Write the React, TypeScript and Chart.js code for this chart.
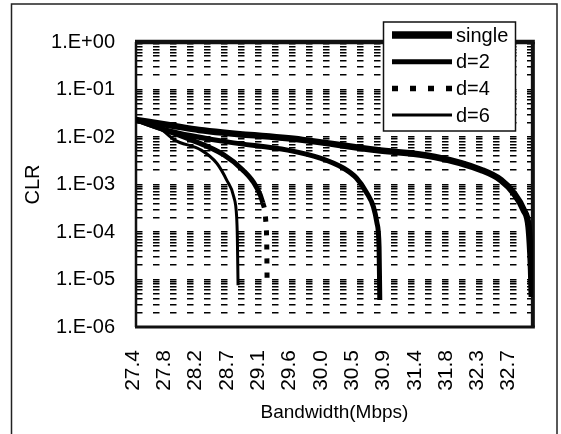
import React, { useEffect, useRef } from 'react';
import { Chart, registerables } from 'chart.js';

Chart.register(...registerables);

// ---- data ----
const X_TICK_LABELS = ['27.4', '27.8', '28.2', '28.7', '29.1', '29.6', '30.0', '30.5', '30.9', '31.4', '31.8', '32.3', '32.7'];
const X_START = 27.4;
const X_STEP = 0.4417;
const X_MAX = 33.0;

const Y_TICK_VALUES = [1e-6, 1e-5, 1e-4, 1e-3, 1e-2, 1e-1, 1];
const Y_TICK_LABELS = ['1.E-06', '1.E-05', '1.E-04', '1.E-03', '1.E-02', '1.E-01', '1.E+00'];

const SERIES_NAMES = ['single', 'd=2', 'd=4', 'd=6'];

const SINGLE_X = [27.4, 27.9, 28.29, 29.75, 30.79, 31.62, 32.28, 32.55, 32.73, 32.87, 32.94, 32.965, 32.975, 32.985];
const SINGLE_Y = [0.0229, 0.0175, 0.0141, 0.0087, 0.0053, 0.0038, 0.002, 0.00124, 6.6e-4, 2.9e-4, 1.28e-4, 3.6e-5, 1.6e-5, 4.3e-6];

const D2_X = [27.4, 27.87, 28.71, 29.54, 30.0, 30.33, 30.51, 30.65, 30.75, 30.8, 30.83, 30.84];
const D2_Y = [0.0229, 0.0134, 0.0078, 0.0053, 0.0036, 0.0022, 0.00137, 6.9e-4, 3.4e-4, 1.55e-4, 4.8e-5, 3.7e-6];

const D4_X = [27.4, 27.8, 28.18, 28.64, 28.91, 29.09, 29.19, 29.23, 29.245, 29.25];
const D4_Y = [0.0229, 0.0141, 0.0087, 0.0042, 0.002, 9.3e-4, 4.1e-4, 1.8e-4, 5.3e-5, 8.1e-6];

const D6_X = [27.4, 27.73, 27.94, 28.32, 28.54, 28.68, 28.78, 28.82, 28.83, 28.84];
const D6_Y = [0.0229, 0.0155, 0.0087, 0.0053, 0.0028, 0.00124, 5.5e-4, 2.1e-4, 7.8e-5, 7.6e-6];

const FONT_FAMILY = "'Liberation Sans', Arial, Helvetica, sans-serif";

const toPoints = (xs: number[], ys: number[]) => xs.map((x, i) => ({ x, y: ys[i] }));

const LEGEND_STYLES = [
  { width: 7.5, dash: [] as number[] },
  { width: 5, dash: [] as number[] },
  { width: 5.5, dash: [6, 12] },
  { width: 3, dash: [] as number[] },
];

const framePlugin = {
  id: 'frame',
  beforeDraw(chart: any) {
    const { ctx, width, height } = chart;
    ctx.save();
    ctx.fillStyle = '#ffffff';
    ctx.fillRect(0, 0, width, height);
    ctx.strokeStyle = '#222';
    ctx.lineWidth = 1.5;
    ctx.strokeRect(11.5, 4, 545.5, height + 10);
    ctx.restore();
  },
  beforeDatasetsDraw(chart: any) {
    const { ctx, chartArea: a } = chart;
    ctx.save();
    ctx.strokeStyle = '#111';
    ctx.setLineDash([]);
    ctx.lineWidth = 2.5;
    ctx.beginPath();
    ctx.moveTo(a.left, a.top);
    ctx.lineTo(a.left, a.bottom);
    ctx.stroke();
    ctx.lineWidth = 3;
    ctx.beginPath();
    ctx.moveTo(a.left - 1, a.bottom);
    ctx.lineTo(a.right + 2, a.bottom);
    ctx.stroke();
    ctx.lineWidth = 4.5;
    ctx.beginPath();
    ctx.moveTo(a.left - 1, a.top);
    ctx.lineTo(a.right + 2, a.top);
    ctx.stroke();
    ctx.lineWidth = 4;
    ctx.beginPath();
    ctx.moveTo(a.right, a.top);
    ctx.lineTo(a.right, a.bottom);
    ctx.stroke();
    ctx.restore();
  },
  afterDraw(chart: any) {
    const { ctx } = chart;
    const bx = 383.5, by = 22, bw = 132, bh = 109;
    ctx.save();
    ctx.fillStyle = '#ffffff';
    ctx.fillRect(bx, by, bw, bh);
    ctx.strokeStyle = '#111';
    ctx.lineWidth = 1.5;
    ctx.setLineDash([]);
    ctx.strokeRect(bx, by, bw, bh);
    ctx.font = `20px ${FONT_FAMILY}`;
    ctx.textAlign = 'left';
    ctx.textBaseline = 'middle';
    SERIES_NAMES.forEach((name, i) => {
      const y = 35 + i * 26.7;
      const st = LEGEND_STYLES[i];
      ctx.strokeStyle = '#000';
      ctx.lineWidth = st.width;
      ctx.setLineDash(st.dash);
      ctx.beginPath();
      ctx.moveTo(392, y);
      ctx.lineTo(452, y);
      ctx.stroke();
      ctx.setLineDash([]);
      ctx.fillStyle = '#000';
      ctx.fillText(name, 456, y + 1);
    });
    ctx.restore();
  },
};

export default function App() {
  const ref = useRef<HTMLCanvasElement | null>(null);

  useEffect(() => {
    document.body.style.margin = '0';
    const canvas = ref.current;
    if (!canvas) return;
    const font = { family: FONT_FAMILY, size: 20 };
    const chart = new Chart(canvas, {
      type: 'line',
      data: {
        datasets: [
          {
            label: SERIES_NAMES[0],
            data: toPoints(SINGLE_X, SINGLE_Y),
            borderColor: '#000',
            borderWidth: 6.5,
            pointRadius: 0,
            cubicInterpolationMode: 'monotone',
          },
          {
            label: SERIES_NAMES[1],
            data: toPoints(D2_X, D2_Y),
            borderColor: '#000',
            borderWidth: 5,
            pointRadius: 0,
            cubicInterpolationMode: 'monotone',
          },
          {
            label: SERIES_NAMES[2],
            data: toPoints(D4_X, D4_Y),
            borderColor: '#000',
            borderWidth: 5,
            pointRadius: 0,
            cubicInterpolationMode: 'monotone',
            segment: {
              borderDash: (c: any) => (c.p1.parsed.y < 3e-4 ? [5, 9] : undefined),
            },
          },
          {
            label: SERIES_NAMES[3],
            data: toPoints(D6_X, D6_Y),
            borderColor: '#000',
            borderWidth: 3,
            pointRadius: 0,
            cubicInterpolationMode: 'monotone',
          },
        ],
      },
      options: {
        animation: false,
        responsive: false,
        maintainAspectRatio: false,
        layout: { padding: { left: 0, right: 22, top: 42, bottom: 0 } },
        plugins: { legend: { display: false }, tooltip: { enabled: false } },
        scales: {
          x: {
            type: 'linear',
            min: X_START,
            max: X_MAX,
            afterBuildTicks: (s: any) => {
              s.ticks = X_TICK_LABELS.map((_, i) => ({ value: X_START + i * X_STEP }));
            },
            afterFit: (s: any) => {
              s.height = 107;
            },
            grid: { display: false, drawTicks: false },
            border: { display: false },
            ticks: {
              autoSkip: false,
              minRotation: 90,
              maxRotation: 90,
              padding: 23,
              labelOffset: -3,
              color: '#000',
              font: { family: FONT_FAMILY, size: 21 },
              callback: (_v: any, i: number) => X_TICK_LABELS[i],
            },
            title: {
              display: true,
              text: 'Bandwidth(Mbps)',
              color: '#000',
              font: { family: FONT_FAMILY, size: 19 },
              padding: { top: 0, bottom: 10 },
            },
          },
          y: {
            type: 'logarithmic',
            min: 1e-6,
            max: 1,
            afterBuildTicks: (s: any) => {
              const t: any[] = [];
              for (let e = -6; e <= 0; e++) {
                for (let m = 1; m <= 9; m++) {
                  if (e === 0 && m > 1) break;
                  t.push({ value: m * Math.pow(10, e), major: m === 1 });
                }
              }
              s.ticks = t;
            },
            afterFit: (s: any) => {
              s.width = 136;
            },
            grid: { color: '#000', lineWidth: 1.6, drawTicks: false },
            border: { display: false, dash: [6.5, 10.5] },
            ticks: {
              autoSkip: false,
              padding: 21,
              color: '#000',
              font,
              callback: (v: any) => {
                const k = Y_TICK_VALUES.findIndex((t) => Math.abs(t - v) / t < 1e-6);
                return k >= 0 ? Y_TICK_LABELS[k] : '';
              },
            },
            title: {
              display: true,
              text: 'CLR',
              color: '#000',
              font: { family: FONT_FAMILY, size: 20 },
              padding: { top: 21, bottom: 0 },
            },
          },
        },
      },
      plugins: [framePlugin],
    } as any);
    return () => chart.destroy();
  }, []);

  return (
    <div style={{ width: 561, height: 434, position: 'relative' }}>
      <canvas ref={ref} width={561} height={434} style={{ width: 561, height: 434, display: 'block' }} />
    </div>
  );
}
